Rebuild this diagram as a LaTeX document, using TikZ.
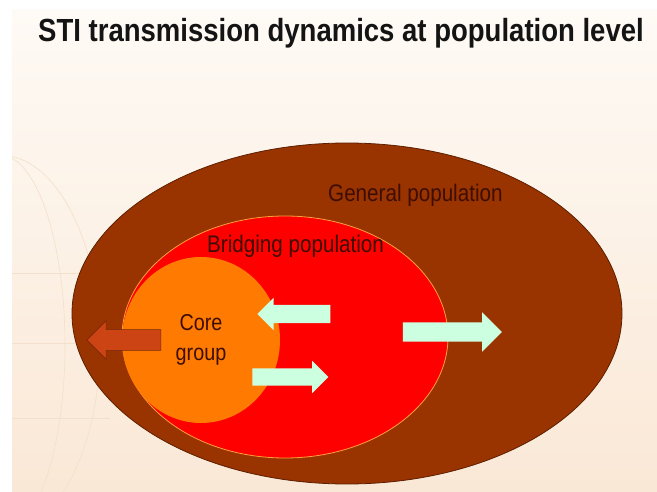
\documentclass[tikz,border=0pt]{standalone}
\usepackage{fontspec}
\setmainfont{Liberation Sans}[FakeStretch=0.86]
\usetikzlibrary{shapes.geometric, shapes.arrows}

\definecolor{genbrown}{RGB}{153,51,0}
\definecolor{bridgered}{RGB}{255,0,0}
\definecolor{bridgeedge}{RGB}{255,160,60}
\definecolor{coreorange}{RGB}{255,122,0}
\definecolor{mint}{RGB}{204,255,224}
\definecolor{rust}{RGB}{204,68,20}
\definecolor{labeltext}{RGB}{62,14,2}
\definecolor{titletext}{RGB}{20,20,20}
\definecolor{creamtop}{RGB}{254,250,245}
\definecolor{creambottom}{RGB}{250,232,214}
\definecolor{globeline}{RGB}{244,224,202}

\tikzset{
  popn/.style={ellipse, inner sep=0pt},
  flow/.style={single arrow, fill=mint, inner xsep=0pt, single arrow tip angle=90, single arrow head indent=0pt},
  lbl/.style={text=labeltext, inner sep=0pt, font=\fontsize{24}{28}\selectfont},
}

\begin{document}
\begin{tikzpicture}[x=1pt, y=-1pt]
        \useasboundingbox (0,0) rectangle (657,492);
        \fill [white] (0,0) rectangle (657,492);
        \shade [top color=creamtop, bottom color=creambottom] (12,10) rectangle (657,492);
        % faint globe at the left
        \begin{scope}
            \clip (12,10) rectangle (657,492);
            \draw [globeline, line width=0.6pt] (0,345) ellipse [x radius=65, y radius=190];
            \draw [globeline, line width=0.6pt] (0,345) ellipse [x radius=100, y radius=190];
            \draw [globeline, line width=0.6pt] (12,273) -- (110,273);
            \draw [globeline, line width=0.6pt] (12,343) -- (110,343);
            \draw [globeline, line width=0.6pt] (12,418) -- (110,418);
        \end{scope}
        \node [anchor=base west, inner sep=0pt, text=titletext, font=\bfseries\fontsize{32}{38}\selectfont] (title) at (38,42) {STI transmission dynamics at population level};
        \node [popn, fill=genbrown, draw=genbrown!60!black, line width=0.8pt, minimum width=550pt, minimum height=341pt] (general) at (347,313.5) {};
        \node [popn, fill=bridgered, draw=bridgeedge, line width=0.8pt, minimum width=326pt, minimum height=242pt] (bridging) at (285,337) {};
        \node [popn, fill=coreorange, minimum width=158pt, minimum height=166pt, align=center, lbl, font=\fontsize{23}{30}\selectfont] (core) at (201,340) {Core\\group};
        \node [lbl, anchor=base west] (generallabel) at (328,202) {General population};
        \node [lbl, anchor=base west] (bridginglabel) at (207,253) {Bridging population};
        \node [flow, minimum height=73pt, inner ysep=9pt, single arrow head extend=7pt, shape border rotate=180] (inflow) at (298.5,314) {};
        \node [flow, minimum height=76pt, inner ysep=8.5pt, single arrow head extend=7.5pt] (outflow) at (286,377) {};
        \node [flow, minimum height=99pt, inner ysep=9.5pt, single arrow head extend=10pt] (spread) at (447.5,332) {};
        \node [flow, fill=rust, draw=rust!60!black, line width=0.6pt, minimum height=74pt, inner ysep=10pt, single arrow head extend=9pt, shape border rotate=180] (leak) at (129,340) {};
    \end{tikzpicture}
\end{document}
